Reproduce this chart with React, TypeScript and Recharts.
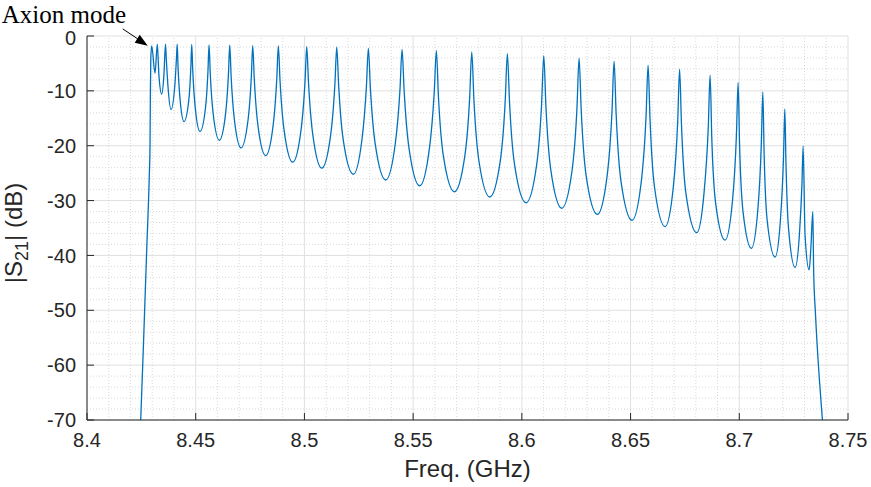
import React from "react";
import { LineChart, Line, XAxis, YAxis, CartesianGrid, ReferenceDot, ReferenceLine } from "recharts";

// |S21|: resonance peaks, troughs and a few shoulder points
const FREQ_GHZ = [
  8.4247, 8.4259, 8.42746, 8.42861, 8.42898, 8.42916, 8.42935, 8.42976,
  8.43128, 8.43234,
  8.43307, 8.43436, 8.43537, 8.43611,
  8.43643, 8.43719, 8.43864, 8.44042, 8.44117, 8.44149,
  8.44189, 8.44283, 8.44462, 8.44683, 8.44776, 8.44816,
  8.44864, 8.44975, 8.45198, 8.45453, 8.45564, 8.45612,
  8.45669, 8.45802, 8.46086, 8.46374, 8.46507, 8.46564,
  8.46628, 8.46776, 8.47084, 8.47411, 8.47559, 8.47622,
  8.47693, 8.47858, 8.4822, 8.48564, 8.48729, 8.488,
  8.48878, 8.49061, 8.49462, 8.49845, 8.50028, 8.50106,
  8.50189, 8.50382, 8.50796, 8.5121, 8.51403, 8.51486,
  8.51574, 8.51777, 8.5225, 8.52649, 8.52852, 8.5294,
  8.53033, 8.5325, 8.5374, 8.5418, 8.54397, 8.5449,
  8.54585, 8.54806, 8.55304, 8.55752, 8.55973, 8.56068,
  8.56165, 8.56394, 8.56896, 8.57371, 8.57599, 8.57696,
  8.57795, 8.58024, 8.58524, 8.59006, 8.59235, 8.59334,
  8.59434, 8.59669, 8.60194, 8.60673, 8.60908, 8.61008,
  8.61106, 8.61333, 8.61836, 8.62307, 8.62535, 8.62632,
  8.62729, 8.62954, 8.63474, 8.6392, 8.64145, 8.64242,
  8.64336, 8.64555, 8.6507, 8.65493, 8.65712, 8.65806,
  8.65893, 8.66096, 8.66588, 8.66965, 8.67168, 8.67255,
  8.67339, 8.67536, 8.68046, 8.68377, 8.68574, 8.68658,
  8.68735, 8.68916, 8.69348, 8.69688, 8.69869, 8.69946,
  8.70014, 8.70173, 8.70558, 8.70855, 8.71014, 8.71082,
  8.71143, 8.71285, 8.71648, 8.71892, 8.72033, 8.72094,
  8.72145, 8.72263, 8.72568, 8.72768, 8.72885, 8.72936,
  8.73025, 8.73212, 8.73293, 8.73382,
  8.73419, 8.73502, 8.73686, 8.73824,
];

const S21_DB = [
  -70, -57, -39, -26, -20, -10, -4, -1.8,
  -6.8, -1.5,
  -7.14, -10.6, -7.14, -1.5,
  -3.88, -8.88, -13.4, -8.88, -3.88, -1.5,
  -5.73, -11.65, -15.6, -11.67, -5.75, -1.55,
  -6.31, -12.96, -17.4, -12.98, -6.34, -1.6,
  -6.82, -14.13, -19.0, -14.14, -6.85, -1.65,
  -7.28, -15.15, -20.4, -15.18, -7.35, -1.75,
  -7.77, -16.19, -21.8, -16.2, -7.8, -1.8,
  -8.16, -17.06, -23.0, -17.11, -8.27, -1.95,
  -8.6, -17.9, -24.1, -17.93, -8.67, -2.05,
  -9.0, -18.72, -25.2, -18.77, -9.14, -2.25,
  -9.45, -19.53, -26.25, -19.59, -9.59, -2.45,
  -9.91, -20.34, -27.3, -20.4, -10.05, -2.65,
  -11.15, -21.96, -28.4, -22.03, -11.32, -2.9,
  -11.63, -22.74, -29.35, -22.81, -11.83, -3.2,
  -12.18, -23.6, -30.4, -23.7, -12.44, -3.6,
  -12.77, -24.45, -31.4, -24.56, -13.08, -4.05,
  -13.44, -25.39, -32.5, -25.53, -13.81, -4.6,
  -14.17, -26.35, -33.6, -26.53, -14.64, -5.3,
  -15.02, -27.39, -34.75, -27.58, -15.52, -6.05,
  -15.88, -28.4, -35.85, -28.68, -16.62, -7.15,
  -18.57, -30.59, -37.2, -30.03, -17.97, -8.5,
  -19.98, -32.06, -38.7, -31.58, -19.61, -10.2,
  -21.64, -33.68, -40.3, -33.55, -22.21, -13.3,
  -22.84, -34.98, -42.2, -36.01, -26.73, -20.1,
  -36.3, -42.65, -38.6, -32.0,
  -42.6, -50.5, -62.7, -70,
];

const X_TICKS = [8.4, 8.45, 8.5, 8.55, 8.6, 8.65, 8.7, 8.75];
const Y_TICKS = [-70, -60, -50, -40, -30, -20, -10, 0];
// minor grid every 0.01 GHz and every 2 dB
const X_MINOR = Array.from({ length: 34 }, (_, i) => +(8.41 + i * 0.01).toFixed(2)).filter(
  (v) => !X_TICKS.includes(v)
);
const Y_MINOR = Array.from({ length: 34 }, (_, i) => -68 + i * 2).filter((v) => !Y_TICKS.includes(v));

const AXION = { f: 8.42976, db: -1.8, label: "Axion mode" };

const AXIS = "#262626";
const LINE = "#0072BD";
const MINOR = "#cfcfcf";
const SANS = '"Liberation Sans", Arial, Helvetica, sans-serif';
const SERIF = '"Liberation Serif", "Times New Roman", serif';

const data = FREQ_GHZ.map((f, i) => ({ f, s21: S21_DB[i] }));

function BottomTick(props: any) {
  const { x, y, payload } = props;
  return (
    <g>
      <line x1={x} y1={y} x2={x} y2={y - 7} stroke={AXIS} strokeWidth={1} />
      <text x={x} y={y + 27} textAnchor="middle" fontSize={20} fontFamily={SANS} fill={AXIS}>
        {String(payload.value)}
      </text>
    </g>
  );
}

function TopTick(props: any) {
  const { x, y } = props;
  return <line x1={x} y1={y} x2={x} y2={y + 7} stroke={AXIS} strokeWidth={1} />;
}

function LeftTick(props: any) {
  const { x, y, payload } = props;
  const shift = payload.value === 0 ? 2 : 0;
  return (
    <g>
      <line x1={x} y1={y} x2={x + 7} y2={y} stroke={AXIS} strokeWidth={1} />
      <text x={x - 11} y={y + shift} dy="0.36em" textAnchor="end" fontSize={20} fontFamily={SANS} fill={AXIS}>
        {String(payload.value)}
      </text>
    </g>
  );
}

function RightTick(props: any) {
  const { x, y } = props;
  return <line x1={x} y1={y} x2={x - 7} y2={y} stroke={AXIS} strokeWidth={1} />;
}

function XTitle(props: any) {
  const { x, y, width } = props.viewBox;
  return (
    <text x={x + width / 2} y={y + 57} textAnchor="middle" fontSize={24} fontFamily={SANS} fill={AXIS}>
      Freq. (GHz)
    </text>
  );
}

function YTitle(props: any) {
  const { x, y, height } = props.viewBox;
  const cx = x + 15;
  const cy = y + height / 2 + 5;
  return (
    <text
      x={cx}
      y={cy}
      textAnchor="middle"
      fontSize={24}
      fontFamily={SANS}
      fill={AXIS}
      transform={`rotate(-90, ${cx}, ${cy})`}
    >
      <tspan>|S</tspan>
      <tspan dy={6} fontSize={18}>21</tspan>
      <tspan dy={-6}>| (dB)</tspan>
    </text>
  );
}

function AxionMarker(props: any) {
  const { cx, cy } = props;
  return (
    <g>
      <text x={cx - 150} y={cy - 23} fontSize={25} fontFamily={SERIF} fill="#000">
        {AXION.label}
      </text>
      <line x1={cx - 29} y1={cy - 17} x2={cx - 14} y2={cy - 7} stroke="#000" strokeWidth={1} />
      <polygon
        points={`${cx - 4},${cy} ${cx - 17},${cy - 3} ${cx - 12},${cy - 11}`}
        fill="#000"
      />
    </g>
  );
}

export default function App() {
  return (
    <div style={{ position: "absolute", left: 0, top: 0, width: 871, height: 487, background: "#fff" }}>
      <LineChart width={871} height={487} data={data} margin={{ top: 36, right: 23, bottom: 27, left: 7 }}>
        <CartesianGrid stroke="#e0e0e0" />
        {X_MINOR.map((v) => (
          <ReferenceLine key={`mx${v}`} x={v} stroke={MINOR} strokeWidth={0.8} strokeDasharray="1 2" />
        ))}
        {Y_MINOR.map((v) => (
          <ReferenceLine key={`my${v}`} y={v} stroke={MINOR} strokeWidth={0.8} strokeDasharray="1 2" />
        ))}

        <XAxis
          dataKey="f"
          type="number"
          domain={[8.4, 8.75]}
          ticks={X_TICKS}
          interval={0}
          height={40}
          tickSize={0}
          tickMargin={0}
          tick={(p: any) => <BottomTick {...p} />}
          axisLine={{ stroke: AXIS }}
          label={<XTitle />}
        />
        <XAxis
          xAxisId="top"
          orientation="top"
          dataKey="f"
          type="number"
          domain={[8.4, 8.75]}
          ticks={X_TICKS}
          interval={0}
          height={0}
          tickSize={0}
          tickMargin={0}
          tick={(p: any) => <TopTick {...p} />}
          axisLine={{ stroke: AXIS }}
        />
        <YAxis
          type="number"
          domain={[-70, 0]}
          ticks={Y_TICKS}
          interval={0}
          width={80}
          tickSize={0}
          tickMargin={0}
          tick={(p: any) => <LeftTick {...p} />}
          axisLine={{ stroke: AXIS }}
          label={<YTitle />}
        />
        <YAxis
          yAxisId="right"
          orientation="right"
          type="number"
          domain={[-70, 0]}
          ticks={Y_TICKS}
          interval={0}
          width={0}
          tickSize={0}
          tickMargin={0}
          tick={(p: any) => <RightTick {...p} />}
          axisLine={{ stroke: AXIS }}
        />

        <Line
          type="monotone"
          dataKey="s21"
          stroke={LINE}
          strokeWidth={1.3}
          dot={false}
          isAnimationActive={false}
        />
        <ReferenceDot
          x={AXION.f}
          y={AXION.db}
          r={0}
          ifOverflow="visible"
          shape={(p: any) => <AxionMarker {...p} />}
        />
      </LineChart>
    </div>
  );
}
